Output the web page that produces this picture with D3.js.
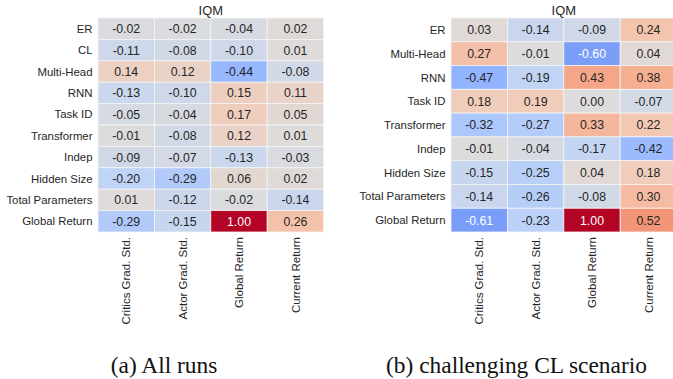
<!DOCTYPE html>
<html>
<head>
<meta charset="utf-8">
<script src="https://cdn.jsdelivr.net/npm/d3@7"></script>
<style>
  body { margin: 0; background: #fff; }
  svg { display: block; }
</style>
</head>
<body>
<div id="chart"></div>
<script>
// columns are shared by both panels
var columns = ["Critics Grad. Std.", "Actor Grad. Std.", "Global Return", "Current Return"];

// (a) all runs
var rows_a = ["ER", "CL", "Multi-Head", "RNN", "Task ID", "Transformer", "Indep", "Hidden Size", "Total Parameters", "Global Return"];
var values_a = [
    [-0.02, -0.02, -0.04, 0.02],
    [-0.11, -0.08, -0.10, 0.01],
    [0.14, 0.12, -0.44, -0.08],
    [-0.13, -0.10, 0.15, 0.11],
    [-0.05, -0.04, 0.17, 0.05],
    [-0.01, -0.08, 0.12, 0.01],
    [-0.09, -0.07, -0.13, -0.03],
    [-0.20, -0.29, 0.06, 0.02],
    [0.01, -0.12, -0.02, -0.14],
    [-0.29, -0.15, 1.00, 0.26]
];

// (b) challenging CL scenario
var rows_b = ["ER", "Multi-Head", "RNN", "Task ID", "Transformer", "Indep", "Hidden Size", "Total Parameters", "Global Return"];
var values_b = [
    [0.03, -0.14, -0.09, 0.24],
    [0.27, -0.01, -0.60, 0.04],
    [-0.47, -0.19, 0.43, 0.38],
    [0.18, 0.19, 0.00, -0.07],
    [-0.32, -0.27, 0.33, 0.22],
    [-0.01, -0.04, -0.17, -0.42],
    [-0.15, -0.25, 0.04, 0.18],
    [-0.14, -0.26, -0.08, 0.30],
    [-0.61, -0.23, 1.00, 0.52]
];

var captions = ["(a) All runs", "(b) challenging CL scenario"];

var width = 673, height = 379;

// coolwarm, vmin -1 vmax 1
var cw = ["#3b4cc0", "#5977e3", "#7b9ff9", "#9ebeff", "#c0d4f5", "#dddcdc", "#f2cbb7", "#f7ac8e", "#ee8468", "#d65244", "#b40426"];
var color = d3.scaleLinear()
    .domain(d3.range(cw.length).map(function(i) { return -1 + 2 * i / (cw.length - 1); }))
    .range(cw)
    .interpolate(d3.interpolateRgb);

// white text on dark cells, like seaborn does
function text_color(v) {
    var c = d3.rgb(color(v));
    var lum = [c.r, c.g, c.b].map(function(x) {
        x = x / 255;
        return x <= 0.03928 ? x / 12.92 : Math.pow((x + 0.055) / 1.055, 2.4);
    });
    var L = 0.2126 * lum[0] + 0.7152 * lum[1] + 0.0722 * lum[2];
    return L < 0.408 ? "#ffffff" : "#262626";
}

var fmt = function(v) { return d3.format(".2f")(v).replace("\u2212", "-"); };

var svg = d3.select("#chart").append("svg")
    .attr("width", width)
    .attr("height", height)
    .style("font-family", "'Liberation Sans', Arial, sans-serif");

function draw_heatmap(rows, values, left, caption_x, caption) {
    var top = 18, bottom = 232, col_w = 56.4;

    var x = d3.scaleBand()
        .domain(columns)
        .range([left, left + 4 * col_w]);
    var y = d3.scaleBand()
        .domain(rows)
        .range([top, bottom]);

    var g = svg.append("g");

    var cells = [];
    rows.forEach(function(r, i) {
        columns.forEach(function(c, j) {
            cells.push({row: r, col: c, v: values[i][j]});
        });
    });

    g.selectAll("rect.cell")
        .data(cells)
        .enter().append("rect")
        .attr("class", "cell")
        .attr("x", function(d) { return x(d.col); })
        .attr("y", function(d) { return y(d.row); })
        .attr("width", x.bandwidth())
        .attr("height", y.bandwidth())
        .attr("fill", function(d) { return color(d.v); })
        .attr("stroke", "#f4f4f4")
        .attr("stroke-width", 0.8);

    g.selectAll("text.val")
        .data(cells)
        .enter().append("text")
        .attr("class", "val")
        .attr("x", function(d) { return x(d.col) + x.bandwidth() / 2; })
        .attr("y", function(d) { return y(d.row) + y.bandwidth() / 2; })
        .attr("dy", "0.36em")
        .attr("text-anchor", "middle")
        .style("font-size", "12.3px")
        .style("fill", function(d) { return text_color(d.v); })
        .text(function(d) { return fmt(d.v); });

    // row labels
    g.selectAll("text.rowlab")
        .data(rows)
        .enter().append("text")
        .attr("class", "rowlab")
        .attr("x", left - 5.5)
        .attr("y", function(d) { return y(d) + y.bandwidth() / 2; })
        .attr("dy", "0.36em")
        .attr("text-anchor", "end")
        .style("font-size", "11.4px")
        .style("fill", "#262626")
        .text(function(d) { return d; });

    // column labels, rotated
    g.selectAll("text.collab")
        .data(columns)
        .enter().append("text")
        .attr("class", "collab")
        .attr("transform", function(d) {
            return "translate(" + (x(d) + x.bandwidth() / 2) + "," + (bottom + 5) + ") rotate(-90)";
        })
        .attr("dy", "0.36em")
        .attr("text-anchor", "end")
        .style("font-size", "11.5px")
        .style("fill", "#262626")
        .text(function(d) { return d; });

    g.append("text")
        .attr("x", left + 2 * col_w)
        .attr("y", 15)
        .attr("text-anchor", "middle")
        .style("font-size", "12.9px")
        .style("fill", "#262626")
        .text("IQM");

    g.append("text")
        .attr("x", caption_x)
        .attr("y", 373)
        .attr("text-anchor", "middle")
        .style("font-family", "'Liberation Serif', 'Times New Roman', serif")
        .style("font-size", "23.4px")
        .style("fill", "#111")
        .text(caption);
}

draw_heatmap(rows_a, values_a, 98, 164, captions[0]);
draw_heatmap(rows_b, values_b, 451, 516.5, captions[1]);
</script>
</body>
</html>
